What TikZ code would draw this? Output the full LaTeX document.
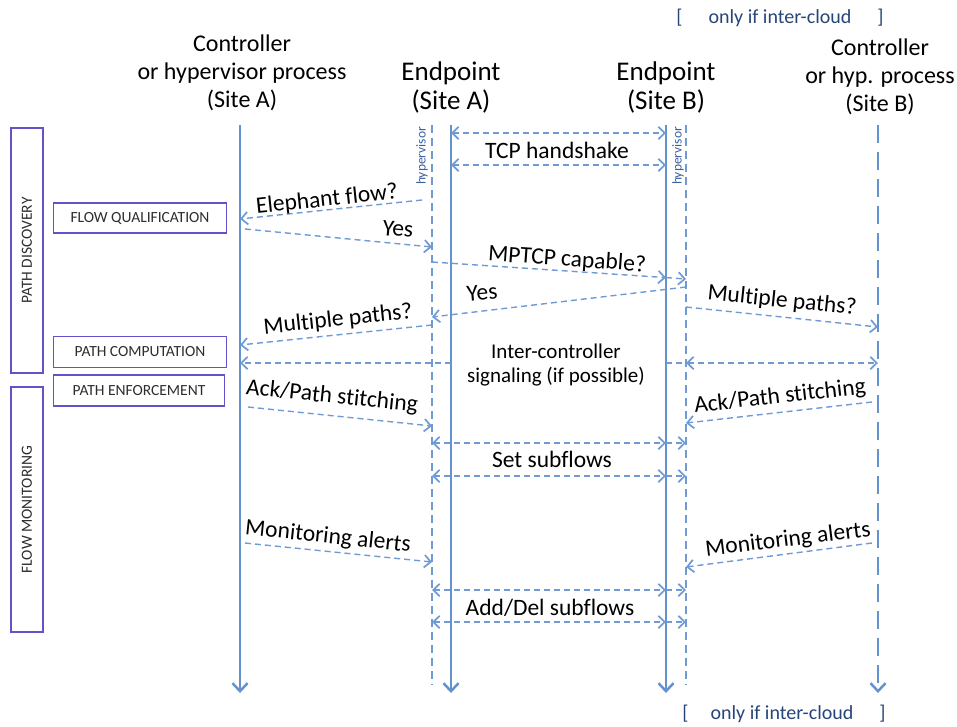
\documentclass[tikz,border=0pt]{standalone}
\usepackage{fontspec}
\setmainfont{Carlito}[Ligatures=NoCommon]
\usetikzlibrary{arrows.meta}
\definecolor{life}{RGB}{100,146,206}
\definecolor{msg}{RGB}{112,154,212}
\definecolor{boxc}{RGB}{98,84,198}
\definecolor{hdrblue}{RGB}{38,70,120}
\definecolor{hypblue}{RGB}{60,98,160}
\definecolor{boxtxt}{RGB}{45,45,45}
\begin{document}
\begin{tikzpicture}[x=1pt,y=-1pt,
  lifeline/.style={line width=2.8pt,draw=life,-{Straight Barb[length=8pt,width=15pt,line width=2.5pt]}},
  lifedash/.style={lifeline,dash pattern=on 18pt off 9pt},
  hypline/.style={line width=1.3pt,draw=msg,dash pattern=on 8pt off 5pt},
  msgtip/.tip={Straight Barb[length=6.5pt,width=12.5pt,line width=1.7pt]},
  msgline/.style={line width=1.4pt,draw=msg,dash pattern=on 6pt off 4pt},
  msgarrow/.style={msgline,-msgtip},
  msgboth/.style={msgline,msgtip-msgtip},
  hdr/.style={align=center,font=\fontsize{24}{28}\selectfont,inner sep=0pt},
  ephdr/.style={align=center,font=\fontsize{27}{29}\selectfont,inner sep=0pt},
  lbl/.style={font=\fontsize{23.5}{26}\selectfont,inner sep=0pt},
  phasebox/.style={draw=boxc,line width=1.3pt,text=boxtxt,font=\fontsize{15.5}{17}\selectfont,inner sep=0pt,minimum width=173pt,minimum height=30pt},
  bigbox/.style={phasebox,rotate=90,minimum width=245pt,minimum height=32pt},
  hyplbl/.style={font=\fontsize{13.5}{14}\selectfont,text=hypblue,rotate=90,inner sep=0pt},
  cloud/.style={font=\fontsize{20}{22}\selectfont,text=hdrblue,inner sep=0pt}
]
\useasboundingbox (0,0) rectangle (957,726);

% x positions
\def\xcA{240}\def\xhA{432}\def\xeA{451}\def\xeB{666}\def\xhB{686}\def\xcB{878}

% headers
\node[cloud] (cloudtop) at (780,18) {[\hspace{26pt}only if inter-cloud\hspace{26pt}]};
\node[cloud] (cloudbot) at (784,714) {[\hspace{22pt}only if inter-cloud\hspace{26pt}]};
\node[hdr] (hcA) at (242,73) {Controller\\or hypervisor process\\(Site A)};
\node[ephdr] (heA) at (451,87) {Endpoint\\(Site A)};
\node[ephdr] (heB) at (666,87) {Endpoint\\(Site B)};
\node[hdr] (hcB) at (880,77) {Controller\\or hyp. process\\(Site B)};

% phase boxes
\node[bigbox] (pd) at (27,250.5) {PATH DISCOVERY};
\node[bigbox] (fm) at (27,509.5) {FLOW MONITORING};
\node[phasebox] (fq) at (140,218) {FLOW QUALIFICATION};
\node[phasebox,minimum height=31pt] (pc) at (140,352) {PATH COMPUTATION};
\node[phasebox,minimum height=31pt,minimum width=171pt] (pe) at (139,390.5) {PATH ENFORCEMENT};

% lifelines
\coordinate (cAt) at (\xcA,125); \coordinate (cAb) at (\xcA,693);
\coordinate (hAt) at (\xhA,125); \coordinate (hAb) at (\xhA,685);
\coordinate (eAt) at (\xeA,125); \coordinate (eAb) at (\xeA,693);
\coordinate (eBt) at (\xeB,125); \coordinate (eBb) at (\xeB,693);
\coordinate (hBt) at (\xhB,125); \coordinate (hBb) at (\xhB,685);
\coordinate (cBt) at (\xcB,125); \coordinate (cBb) at (\xcB,693);
\draw[hypline] (hAt) -- (hAb);
\draw[hypline] (hBt) -- (hBb);
\draw[lifeline] (cAt) -- (cAb);
\draw[lifeline] (eAt) -- (eAb);
\draw[lifeline] (eBt) -- (eBb);
\draw[lifedash] (cBt) -- (cBb);
\node[hyplbl] (hypA) at (422,156) {hypervisor};
\node[hyplbl] (hypB) at (678,156) {hypervisor};

% TCP handshake
\coordinate (t1a) at (\xeA,133); \coordinate (t1b) at (\xeB,133);
\coordinate (t2a) at (\xeA,165); \coordinate (t2b) at (\xeB,165);
\draw[msgboth] (t1a) -- (t1b);
\draw[msgboth] (t2a) -- (t2b);
\node[lbl] (ltcp) at (557,150) {TCP handshake};

% Elephant flow?
\coordinate (m1s) at (422,200); \coordinate (m1e) at (\xcA,219);
\draw[msgarrow] (m1s) -- (m1e);
\node[lbl,rotate=6] (lelephant) at (327,200) {Elephant flow?};

% Yes
\coordinate (m2s) at (245,229); \coordinate (m2e) at (\xhA,247);
\draw[msgarrow] (m2s) -- (m2e);
\node[lbl,rotate=-5] (lyes1) at (398,229) {Yes};

% MPTCP capable?
\coordinate (m3s) at (\xhA,262); \coordinate (m3m) at (\xeB,277.6); \coordinate (m3e) at (\xhB,279);
\draw[msgarrow] (m3s) -- (m3m);
\draw[msgarrow] (m3m) -- (m3e);
\node[lbl,rotate=-4] (lmptcp) at (567,260) {MPTCP capable?};

% Yes
\coordinate (m4s) at (\xhB,287); \coordinate (m4e) at (\xhA,317);
\draw[msgarrow] (m4s) -- (m4e);
\node[lbl,rotate=5] (lyes2) at (482,293) {Yes};

% Multiple paths? (left)
\coordinate (m5s) at (\xhA,325); \coordinate (m5e) at (\xcA,345);
\draw[msgarrow] (m5s) -- (m5e);
\node[lbl,rotate=6] (lmultl) at (338,320) {Multiple paths?};

% Multiple paths? (right)
\coordinate (m6s) at (\xhB,307); \coordinate (m6e) at (\xcB,327);
\draw[msgarrow] (m6s) -- (m6e);
\node[lbl,rotate=-6] (lmultr) at (782,301) {Multiple paths?};

% Inter-controller signaling
\coordinate (s1) at (\xcA,363); \coordinate (s2) at (\xeA,363);
\coordinate (s3) at (\xeB,363); \coordinate (s4) at (\xhB,363); \coordinate (s5) at (\xcB,363);
\draw[msgarrow] (s2) -- (s1);
\draw[msgline] (s3) -- (s4);
\draw[msgboth] (s4) -- (s5);
\node[lbl,align=center,font=\fontsize{21}{24}\selectfont] (linter) at (556,365) {Inter-controller\\signaling (if possible)};

% Ack/Path stitching
\coordinate (m7s) at (248,407); \coordinate (m7e) at (\xhA,426);
\draw[msgarrow] (m7s) -- (m7e);
\node[lbl,rotate=-6] (lackl) at (332,397) {Ack/Path stitching};
\coordinate (m8s) at (872,402); \coordinate (m8e) at (\xhB,423);
\draw[msgarrow] (m8s) -- (m8e);
\node[lbl,rotate=6.5] (lackr) at (780,397) {Ack/Path stitching};

% Set subflows
\coordinate (u1a) at (\xhA,443); \coordinate (u1b) at (\xeB,443); \coordinate (u1c) at (\xhB,443);
\coordinate (u2a) at (\xhA,476); \coordinate (u2b) at (\xeB,476); \coordinate (u2c) at (\xhB,476);
\draw[msgboth] (u1a) -- (u1b); \draw[msgarrow] (u1b) -- (u1c);
\draw[msgboth] (u2a) -- (u2b); \draw[msgarrow] (u2b) -- (u2c);
\node[lbl] (lset) at (552,459) {Set subflows};

% Monitoring alerts
\coordinate (m9s) at (245,543); \coordinate (m9e) at (\xhA,562);
\draw[msgarrow] (m9s) -- (m9e);
\node[lbl,rotate=-6] (lmonl) at (328,537) {Monitoring alerts};
\coordinate (m10s) at (872,543); \coordinate (m10e) at (\xhB,567);
\draw[msgarrow] (m10s) -- (m10e);
\node[lbl,rotate=7] (lmonr) at (788,540) {Monitoring alerts};

% Add/Del subflows
\coordinate (v1a) at (\xhA,590); \coordinate (v1b) at (\xeB,590); \coordinate (v1c) at (\xhB,590);
\coordinate (v2a) at (\xhA,622); \coordinate (v2b) at (\xeB,622); \coordinate (v2c) at (\xhB,622);
\draw[msgboth] (v1a) -- (v1b); \draw[msgarrow] (v1b) -- (v1c);
\draw[msgboth] (v2a) -- (v2b); \draw[msgarrow] (v2b) -- (v2c);
\node[lbl] (ladd) at (550,608) {Add/Del subflows};
\end{tikzpicture}
\end{document}
